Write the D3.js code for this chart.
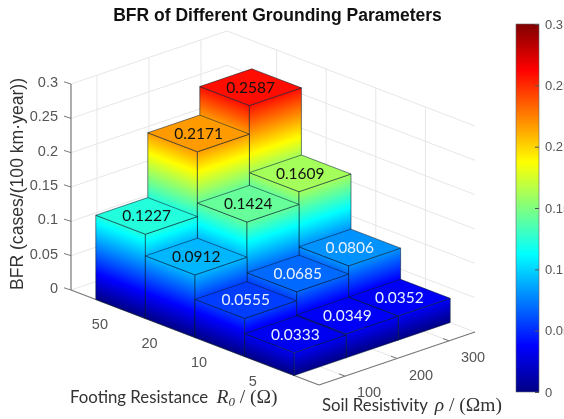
<!DOCTYPE html>
<html><head><meta charset="utf-8">
<script src="https://cdn.jsdelivr.net/npm/d3@7/dist/d3.min.js"></script>
<style>html,body{margin:0;padding:0;background:#fff;overflow:hidden}svg{display:block;filter:blur(0.35px)}</style>
</head><body><svg id="c" width="564" height="419"></svg>
<script>
const resistanceLabels = ["5","10","20","50"];
const resistivityLabels = ["100","200","300"];
const bfr5  = [0.0333,0.0349,0.0352];
const bfr10 = [0.0555,0.0685,0.0806];
const bfr20 = [0.0912,0.1424,0.1609];
const bfr50 = [0.1227,0.2171,0.2587];
const series = [bfr5,bfr10,bfr20,bfr50];
const zTicks = [0,0.05,0.1,0.15,0.2,0.25,0.3];
const jetPos = [0,1/8,3/8,5/8,7/8,1];
const jetColors = ["#000084","#0000ff","#00ffff","#ffff00","#ff0000","#800000"];

const svg = d3.select("#c");
const defs = svg.append("defs");
const SANS = "'Liberation Sans',Arial,sans-serif", SERIF = "'Liberation Serif',serif", LATO = "Lato,sans-serif";

const jet = d3.scaleLinear().domain(jetPos.map(p=>p*0.3)).range(jetColors).clamp(true);
const xu = d3.scaleLinear([0,5],[0,-248]), yu = d3.scaleLinear([0,5],[0,-95]);
const xv = d3.scaleLinear([0,3],[0,156]),  yv = d3.scaleLinear([0,3],[0,-53]);
const yz = d3.scaleLinear([0,0.3],[0,-206]);
const P = (u,v,z=0)=>[319+xu(u)+xv(v), 385+yu(u)+yv(v)+yz(z)];
const pts = a=>a.map(p=>p.join(",")).join(" ");
const GRID="#e6e6e6", AX="#777", TXT="#555";

// grid
const g = svg.append("g");
const line=(a,b,c,w=1)=>g.append("line").attr("x1",a[0]).attr("y1",a[1]).attr("x2",b[0]).attr("y2",b[1]).attr("stroke",c).attr("stroke-width",w);
zTicks.forEach(z=>{ line(P(5,0,z),P(5,3,z),GRID); line(P(5,3,z),P(0,3,z),GRID); });
const vTicks = resistivityLabels.map((_,i)=>i+0.5), uTicks = resistanceLabels.map((_,i)=>i+1);
vTicks.forEach(v=>{ line(P(5,v,0),P(5,v,0.3),GRID); line(P(0,v),P(5,v),GRID); });
uTicks.forEach(u=>{ line(P(u,3,0),P(u,3,0.3),GRID); line(P(u,0),P(u,3),GRID); });
// axes
line(P(5,0,0),P(5,0,0.3),AX,1.2); line(P(5,0),P(0,0),AX,1.2); line(P(0,0),P(0,3),AX,1.2);
zTicks.forEach(z=>{const p=P(5,0,z); line(p,[p[0]-7,p[1]-2.2],AX,1);
  g.append("text").attr("x",58).attr("y",p[1]-2).attr("dy","0.35em").attr("text-anchor","end")
   .attr("font-family",SANS).attr("font-size",14.5).attr("fill",TXT).text(String(z));});
uTicks.forEach((u,i)=>{const p=P(u,0); line(p,[p[0]+6,p[1]-2],AX,1);
  g.append("text").attr("x",p[0]-12.6).attr("y",p[1]+15).attr("dy","0.35em").attr("text-anchor","end")
   .attr("font-family",SANS).attr("font-size",14.5).attr("fill",TXT).text(resistanceLabels[i]);});
vTicks.forEach((v,i)=>{const p=P(0,v); line(p,[p[0]-6,p[1]-2.3],AX,1);
  g.append("text").attr("x",p[0]+24).attr("y",p[1]+16).attr("dy","0.35em").attr("text-anchor","middle")
   .attr("font-family",SANS).attr("font-size",14.5).attr("fill",TXT).text(resistivityLabels[i]);});

// bars
const bars=[];
series.forEach((vals,i)=>vals.forEach((val,j)=>bars.push({i,j,val,u0:i+0.5,u1:i+1.5,v0:j,v1:j+1})));
bars.sort((a,b)=>(b.i+b.j)-(a.i+a.j));
let gid=0;
function grad(base,edge,val){
  const top=P(0,0,val)[1]-P(0,0,0)[1];
  const len=Math.hypot(edge[0],edge[1]); let nx=-edge[1]/len, ny=edge[0]/len;
  let d=ny*top; if(d<0){nx=-nx;ny=-ny;d=-d;}
  const id="g"+(gid++);
  const lg=defs.append("linearGradient").attr("id",id).attr("gradientUnits","userSpaceOnUse")
    .attr("x1",base[0]).attr("y1",base[1]).attr("x2",base[0]+nx*d).attr("y2",base[1]+ny*d);
  const zs=[0,...jetPos.map(p=>p*0.3).filter(z=>z>0&&z<val),val];
  zs.forEach(z=>lg.append("stop").attr("offset",z/val).attr("stop-color",jet(z)));
  return `url(#${id})`;
}
const EDGE="rgba(10,30,50,0.55)";
const bg=svg.append("g");
bars.forEach(b=>{
  const {u0,u1,v0,v1,val}=b;
  const A=P(u0,v0),B=P(u1,v0),C=P(u0,v1);
  const face=(p,q,base)=>bg.append("polygon").attr("points",pts(p))
    .attr("fill",grad(base,q,val)).attr("stroke",EDGE).attr("stroke-width",1);
  face([P(u1,v0),P(u0,v0),P(u0,v0,val),P(u1,v0,val)],[B[0]-A[0],B[1]-A[1]],A);
  face([P(u0,v0),P(u0,v1),P(u0,v1,val),P(u0,v0,val)],[C[0]-A[0],C[1]-A[1]],A);
  bg.append("polygon").attr("points",pts([P(u0,v0,val),P(u0,v1,val),P(u1,v1,val),P(u1,v0,val)]))
    .attr("fill",jet(val)).attr("stroke",EDGE).attr("stroke-width",1);
});
// value labels
const lg=svg.append("g");
bars.forEach(b=>{const p=P(b.i+1,b.j+0.5,b.val);
  lg.append("text").attr("x",p[0]).attr("y",p[1]).attr("dy","0.35em").attr("text-anchor","middle")
    .attr("font-family",LATO).attr("font-size",15.5).attr("fill",b.val<0.085?"#e8f2ff":"#111").text(b.val.toFixed(4));});

// colorbar
const cy=d3.scaleLinear([0,0.3],[392,24]);
const cg=defs.append("linearGradient").attr("id","cb").attr("x1",0).attr("y1",1).attr("x2",0).attr("y2",0);
jetPos.forEach((p,i)=>cg.append("stop").attr("offset",p).attr("stop-color",jetColors[i]));
svg.append("rect").attr("x",516).attr("y",24).attr("width",23).attr("height",368).attr("fill","url(#cb)").attr("stroke","#666").attr("stroke-width",0.6);
const cax=svg.append("g").attr("transform","translate(539,0)")
 .call(d3.axisRight(cy).tickValues(zTicks).tickFormat(d=>String(d)).tickSizeInner(-4).tickSizeOuter(0).tickPadding(6));
cax.select(".domain").remove();
cax.selectAll("line").attr("stroke","#555");
cax.selectAll("text").attr("font-family",SANS).attr("font-size",13).attr("fill",TXT);

// titles
svg.append("text").attr("x",277.5).attr("y",21).attr("text-anchor","middle").attr("font-family",SANS)
 .attr("font-weight","bold").attr("font-size",17.5).attr("fill","#111").text("BFR of Different Grounding Parameters");
svg.append("text").attr("transform","translate(23,184) rotate(-90)").attr("text-anchor","middle").attr("font-family",SANS)
 .attr("font-size",17.6).attr("fill","#333").text("BFR (cases/(100 km·year))");

function mixed(x,y,parts){
  const t=svg.append("text").attr("x",x).attr("y",y).attr("font-size",16.8).attr("fill","#333");
  parts.forEach(p=>{const s=t.append("tspan").attr("font-family",p.f).text(p.t);
    if(p.i)s.attr("font-style","italic"); if(p.s)s.attr("font-size",p.s); if(p.dy)s.attr("dy",p.dy); if(p.dx)s.attr("dx",p.dx);});
}
mixed(70,403,[{f:LATO,t:"Footing Resistance "},{f:SERIF,t:"R",i:1,s:19.5,dx:4},{f:SERIF,t:"0",i:1,s:13,dy:3},{f:SERIF,t:" / (Ω)",s:19.5,dy:-3}]);
mixed(322,411,[{f:LATO,t:"Soil Resistivity "},{f:SERIF,t:"ρ",i:1,s:19.5,dx:3},{f:SERIF,t:" / (Ωm)",s:19.5}]);
</script></body></html>
